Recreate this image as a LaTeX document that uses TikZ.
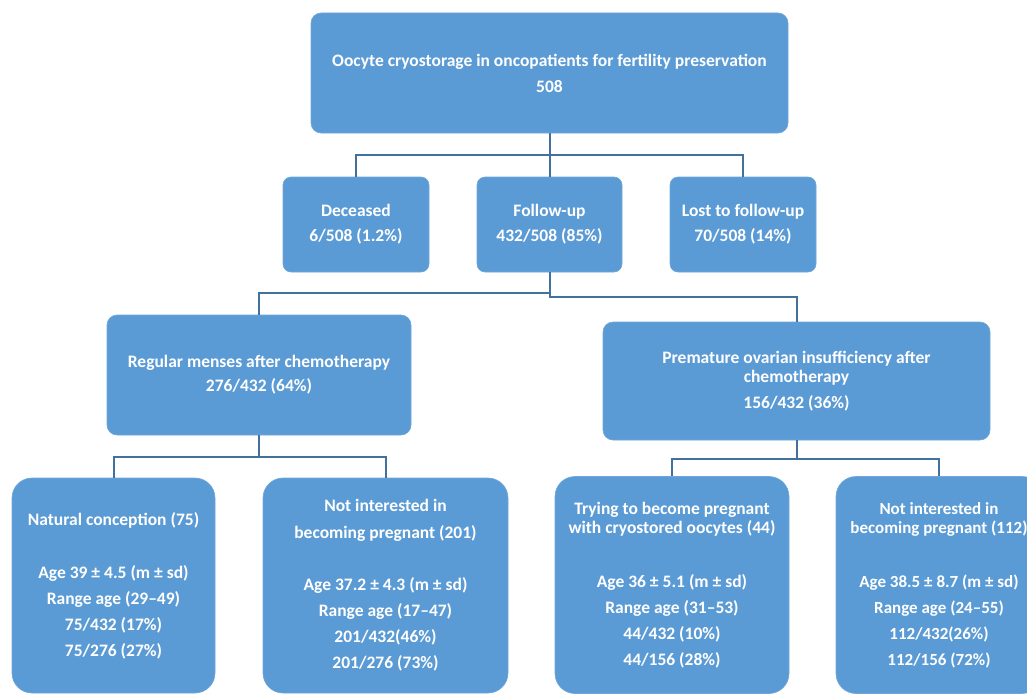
\documentclass[tikz,border=0pt]{standalone}
\usepackage{fontspec}
\setmainfont{Carlito}
\definecolor{boxfill}{HTML}{5B9BD5}
\definecolor{boxedge}{HTML}{6FA7DA}
\definecolor{connc}{HTML}{41719C}
\begin{document}
\begin{tikzpicture}[x=1pt,y=-1pt,
  box/.style={draw=boxedge,line width=0.6pt,fill=boxfill,text=white,align=center,inner sep=0pt,
    font=\fontsize{17.5}{19}\selectfont\bfseries},
  conn/.style={draw=connc,line width=2pt}]
\useasboundingbox (0,0) rectangle (1027,693);
\clip (0,0) rectangle (1027,693);
% level 1
\node[box,rounded corners=10pt,minimum width=477pt,minimum height=120pt] (top) at (549.5,73)
  {Oocyte cryostorage in oncopatients for fertility preservation\\[7pt]508};
% level 2
\node[box,rounded corners=8pt,minimum width=146pt,minimum height=95pt] (dec) at (356,224.5)
  {Deceased\\[6pt]6/508 (1.2\%)};
\node[box,rounded corners=8pt,minimum width=145pt,minimum height=95pt] (fol) at (549.5,224.5)
  {Follow-up\\[6pt]432/508 (85\%)};
\node[box,rounded corners=8pt,minimum width=146pt,minimum height=95pt] (lost) at (743,224.5)
  {Lost to follow-up\\[6pt]70/508 (14\%)};
% level 3
\node[box,rounded corners=10pt,minimum width=304pt,minimum height=120pt] (reg) at (259,375)
  {Regular menses after chemotherapy\\[5pt]276/432 (64\%)};
\node[box,rounded corners=10pt,minimum width=387pt,minimum height=118pt] (poi) at (796.5,381)
  {Premature ovarian insufficiency after\\chemotherapy\\[7pt]156/432 (36\%)};
% level 4
\node[box,rounded corners=20pt,minimum width=203pt,minimum height=215pt] (nat) at (113.5,585.5)
  {Natural conception (75)\\[34pt]Age 39 ± 4.5 (m ± sd)\\[7pt]Range age (29–49)\\[7pt]75/432 (17\%)\\[7pt]75/276 (27\%)};
\node[box,rounded corners=20pt,minimum width=245pt,minimum height=215pt] (ni201) at (385.5,585.5)
  {Not interested in\\[8pt]becoming pregnant (201)\\[33pt]Age 37.2 ± 4.3 (m ± sd)\\[7pt]Range age (17–47)\\[7pt]201/432(46\%)\\[7pt]201/276 (73\%)};
\node[box,rounded corners=20pt,minimum width=234pt,minimum height=217pt] (try) at (672,585)
  {Trying to become pregnant\\with cryostored oocytes (44)\\[35pt]Age 36 ± 5.1 (m ± sd)\\[7pt]Range age (31–53)\\[7pt]44/432 (10\%)\\[7pt]44/156 (28\%)};
\node[box,rounded corners=20pt,minimum width=206pt,minimum height=217pt,
  font=\fontsize{17}{19}\selectfont\bfseries] (ni112) at (939,585)
  {Not interested in\\becoming pregnant (112)\\[35pt]Age 38.5 ± 8.7 (m ± sd)\\[7pt]Range age (24–55)\\[7pt]112/432(26\%)\\[7pt]112/156 (72\%)};
% connectors
\draw[conn] (top.south) -- ++(0,22) -| (dec.north);
\draw[conn] (top.south) -- (fol.north);
\draw[conn] (top.south) -- ++(0,22) -| (lost.north);
\draw[conn] (fol.south) -- ++(0,21) -| (reg.north);
\draw[conn] (fol.south) -- ++(0,25) -| (poi.north);
\draw[conn] (reg.south) -- ++(0,22) -| (nat.north);
\draw[conn] (reg.south) -- ++(0,22) -| (ni201.north);
\draw[conn] (poi.south) -- ++(0,19) -| (try.north);
\draw[conn] (poi.south) -- ++(0,19) -| (ni112.north);
\end{tikzpicture}
\end{document}
